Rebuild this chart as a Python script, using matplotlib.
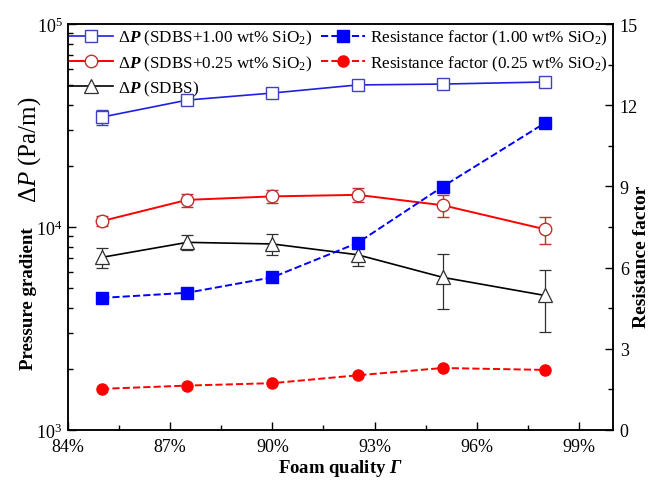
import numpy as np
import matplotlib
matplotlib.use("Agg")
import matplotlib.pyplot as plt
from matplotlib.ticker import FixedLocator, MultipleLocator, FuncFormatter, LogLocator

plt.rcParams['font.family'] = ['Liberation Serif', 'DejaVu Sans']
plt.rcParams['mathtext.fontset'] = 'custom'
plt.rcParams['mathtext.rm'] = 'Liberation Serif'
plt.rcParams['mathtext.it'] = 'Liberation Serif:italic:bold'
plt.rcParams['mathtext.bf'] = 'Liberation Serif:bold'
plt.rcParams['mathtext.sf'] = 'Liberation Serif:italic:bold'
plt.rcParams['mathtext.cal'] = 'Liberation Serif:italic'
plt.rcParams['mathtext.fallback'] = 'stix'

# foam quality (%)
quality = [85, 87.5, 90, 92.5, 95, 98]

# pressure gradient (Pa/m) and error bars
dp_sio2_100 = [34800, 42200, 45700, 50100, 50600, 51800]
dp_sio2_100_err = [3000, 1800, 1500, 2500, 2000, 2200]
dp_sio2_025 = [10700, 13600, 14150, 14400, 12800, 9750]
dp_sio2_025_err = [600, 1000, 1000, 1100, 1600, 1500]
dp_sdbs = [7090, 8400, 8250, 7300, 5650, 4600]
dp_sdbs_err = [800, 700, 1000, 900, 1700, 1550]

# resistance factor
rf_sio2_100 = [4.88, 5.07, 5.64, 6.91, 8.99, 11.34]
rf_sio2_025 = [1.52, 1.64, 1.73, 2.02, 2.29, 2.22]

fig = plt.figure(figsize=(6.51, 4.81), dpi=100)
ax = fig.add_axes([0.1045, 0.104, 0.837, 0.844])
ax2 = ax.twinx()

dp = r'$\Delta P$'
cap = 4
e1 = ax.errorbar(quality, dp_sio2_100, yerr=dp_sio2_100_err, color='#2020e0', lw=1.2,
                 marker='s', ms=8, mfc='white', mec='#4040c0', mew=1.0,
                 capsize=cap, elinewidth=1.0, ecolor='#4040c0')
e2 = ax.errorbar(quality, dp_sio2_025, yerr=dp_sio2_025_err, color='red', lw=1.4,
                 marker='o', ms=9, mfc='white', mec='#c03030', mew=1.0,
                 capsize=cap, elinewidth=1.0, ecolor='#c03030')
e3 = ax.errorbar(quality, dp_sdbs, yerr=dp_sdbs_err, color='black', lw=1.2,
                 marker='^', ms=10, mfc='white', mec='#303030', mew=0.9,
                 capsize=cap, elinewidth=0.9, ecolor='#303030')

h4, = ax2.plot(quality, rf_sio2_100, color='blue', ls='--', lw=1.4, marker='s', ms=8,
               mfc='blue', mec='blue')
h5, = ax2.plot(quality, rf_sio2_025, color='red', ls='--', lw=1.4, marker='o', ms=8,
               mfc='red', mec='red')

ax.set_yscale('log')
ax.set_ylim(1e3, 1e5)
ax.set_xlim(84, 100)
ax2.set_ylim(0, 15)

ax.xaxis.set_major_locator(FixedLocator([84, 87, 90, 93, 96, 99]))
ax.xaxis.set_minor_locator(FixedLocator([85.5, 88.5, 91.5, 94.5, 97.5]))
ax.xaxis.set_major_formatter(FuncFormatter(lambda v, p: f'{v:.0f}%'))
ax.yaxis.set_major_locator(LogLocator(base=10))
ax.yaxis.set_minor_locator(LogLocator(base=10, subs=np.arange(2, 10)))
ax.yaxis.set_minor_formatter(FuncFormatter(lambda v, p: ''))
ax2.yaxis.set_major_locator(MultipleLocator(3))
ax2.yaxis.set_minor_locator(MultipleLocator(1.5))

for a in (ax, ax2):
    a.tick_params(which='major', direction='in', length=6, width=1, labelsize=13)
    a.tick_params(which='minor', direction='in', length=3.5, width=1)
    for s in a.spines.values():
        s.set_linewidth(1.1)
ax.tick_params(axis='x', pad=6)
ax.tick_params(axis='y', pad=4)
ax2.tick_params(axis='y', pad=5)

ax.set_xlabel('Foam quality $\\mathsf{\\Gamma}$', fontsize=13.5, fontweight='bold', labelpad=1)
# left axis title in two parts: bold words, larger regular quantity and unit
ax.text(-0.073, 0.150, 'Pressure gradient', transform=ax.transAxes, rotation=90,
        ha='center', va='bottom', fontsize=13.6, fontweight='bold')
ax.text(-0.071, 0.823, r'$\Delta\mathcal{P}$ (Pa/m)', transform=ax.transAxes, rotation=90,
        ha='center', va='top', fontsize=18)
ax2.text(1.053, 0.43, 'Resistance factor', transform=ax2.transAxes, rotation=90,
         ha='center', va='center', fontsize=14, fontweight='bold')

handles = [e1[0], e2[0], e3[0], h4, h5]
labels = [dp + ' (SDBS+1.00 wt% SiO$_2$)',
          dp + ' (SDBS+0.25 wt% SiO$_2$)',
          dp + ' (SDBS)',
          'Resistance factor (1.00 wt% SiO$_2$)',
          'Resistance factor (0.25 wt% SiO$_2$)']
ax.legend(handles, labels, ncol=2, loc='upper left', frameon=False, fontsize=12.3,
          bbox_to_anchor=(-0.018, 1.015), handlelength=2.6, handletextpad=0.3,
          columnspacing=0.5, labelspacing=0.35, borderaxespad=0.2)

fig.savefig('out.png', dpi=100)
